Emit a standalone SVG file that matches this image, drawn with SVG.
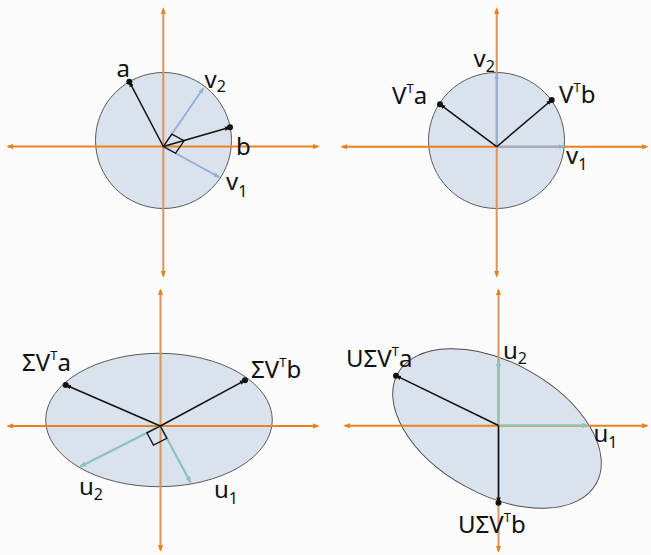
<svg xmlns="http://www.w3.org/2000/svg" width="651" height="555" viewBox="0 0 651 555">
<defs>
<marker id="axh" viewBox="0 0 8 8" refX="6" refY="4" markerWidth="7" markerHeight="7" markerUnits="userSpaceOnUse" orient="auto-start-reverse"><path d="M0,1 L8,4 L0,7 z" fill="#e8811f"/></marker>
<marker id="axv" viewBox="0 0 8 8" refX="6" refY="4" markerWidth="7" markerHeight="7" markerUnits="userSpaceOnUse" orient="auto-start-reverse"><path d="M0,1 L8,4 L0,7 z" fill="#e8811f"/></marker>
<marker id="ab" viewBox="0 0 8 8" refX="7" refY="4" markerWidth="6" markerHeight="6" markerUnits="userSpaceOnUse" orient="auto"><path d="M0,1 L8,4 L0,7 z" fill="#111"/></marker>
<marker id="abl" viewBox="0 0 8 8" refX="7" refY="4" markerWidth="6" markerHeight="6" markerUnits="userSpaceOnUse" orient="auto"><path d="M0,1 L8,4 L0,7 z" fill="#8eaedb"/></marker>
<marker id="at" viewBox="0 0 8 8" refX="7" refY="4" markerWidth="7" markerHeight="7" markerUnits="userSpaceOnUse" orient="auto"><path d="M0,1 L8,4 L0,7 z" fill="#8cc3bb"/></marker>
</defs>
<style>
.bg{fill:#fbfbfb}
.shape{fill:#dae2ee;stroke:#4a4a4a;stroke-width:0.9}
.axh{stroke:#e8811f;stroke-width:2;fill:none}
.axv{stroke:#d8955f;stroke-width:2;fill:none}
.vec{stroke:#111;stroke-width:1.5;fill:none;marker-end:url(#ab)}
.blue{stroke:#8eaedb;stroke-width:1.8;fill:none;marker-end:url(#abl)}
.teal{stroke:#8cc3bb;stroke-width:2.2;fill:none;marker-end:url(#at)}
.sq{stroke:#111;stroke-width:1.3;fill:none}
.dot{fill:#111}
text{font-family:"Noto Sans","Open Sans","DejaVu Sans",sans-serif;font-size:24px;fill:#111}
.sub{font-size:16px}
.sup{font-size:13px}
</style>
<rect class="bg" x="0" y="0" width="651" height="555"/>

<g id="panel-tl">
<circle class="shape" cx="163.5" cy="140.5" r="68"/>
<g id="axes-tl">
<line class="axh" x1="8" y1="146.5" x2="318" y2="146.5" marker-start="url(#axh)" marker-end="url(#axh)"/>
<line class="axv" x1="163.3" y1="9" x2="163.3" y2="276" marker-start="url(#axv)" marker-end="url(#axv)"/>
</g>
<g id="vectors-tl">
<line class="blue" x1="163.3" y1="146.5" x2="203.3" y2="88.3"/>
<line class="blue" x1="163.3" y1="146.5" x2="219.3" y2="177.3"/>
<polygon class="sq" points="163.3,146.5 171.8,134.1 184.1,140.8 175.6,153.2"/>
<line class="vec" x1="163.3" y1="146.5" x2="129.3" y2="81.7"/>
<line class="vec" x1="163.3" y1="146.5" x2="230" y2="127.3"/>
<circle class="dot" cx="129.3" cy="81.7" r="3"/>
<circle class="dot" cx="230" cy="127.3" r="3"/>
</g>
<text x="116.5" y="77">a</text>
<text x="236" y="155">b</text>
<text x="204.5" y="88">v<tspan class="sub" dy="4">2</tspan></text>
<text x="226" y="189.5">v<tspan class="sub" dy="7">1</tspan></text>
</g>

<g id="panel-tr">
<circle class="shape" cx="496.5" cy="140.5" r="68"/>
<g id="axes-tr">
<line class="axh" x1="342" y1="146.7" x2="647" y2="146.7" marker-start="url(#axh)" marker-end="url(#axh)"/>
<line class="axv" x1="496.7" y1="9" x2="496.7" y2="276" marker-start="url(#axv)" marker-end="url(#axv)"/>
</g>
<g id="vectors-tr">
<line class="blue" x1="496.7" y1="146.7" x2="496.7" y2="74"/>
<line class="blue" x1="496.7" y1="146.7" x2="564" y2="146.7"/>
<line class="vec" x1="496.7" y1="146.7" x2="440" y2="104.3"/>
<line class="vec" x1="496.7" y1="146.7" x2="551.7" y2="100"/>
<circle class="dot" cx="440" cy="104.3" r="3"/>
<circle class="dot" cx="551.7" cy="100" r="3"/>
</g>
<text x="473.5" y="67">v<tspan class="sub" dy="5">2</tspan></text>
<text x="392" y="103.5">V<tspan class="sup" dy="-11">T</tspan><tspan dy="11">a</tspan></text>
<text x="559" y="102.5">V<tspan class="sup" dy="-11">T</tspan><tspan dy="11">b</tspan></text>
<text x="566" y="163.5">v<tspan class="sub" dy="6.5">1</tspan></text>
</g>

<g id="panel-bl">
<ellipse class="shape" cx="159" cy="420" rx="113.3" ry="66.7"/>
<g id="axes-bl">
<line class="axh" x1="8" y1="426" x2="318" y2="426" marker-start="url(#axh)" marker-end="url(#axh)"/>
<line class="axv" x1="160.5" y1="290" x2="160.5" y2="550" marker-start="url(#axv)" marker-end="url(#axv)"/>
</g>
<g id="vectors-bl">
<line class="teal" x1="160.3" y1="426" x2="80" y2="466.7"/>
<line class="teal" x1="160.3" y1="426" x2="190.7" y2="482.7"/>
<polygon class="sq" points="160.3,426 146.9,432.8 153.5,445.1 166.9,438.3"/>
<line class="vec" x1="160.3" y1="426" x2="65.7" y2="385"/>
<line class="vec" x1="160.3" y1="426" x2="245" y2="380.3"/>
<circle class="dot" cx="65.7" cy="385" r="3"/>
<circle class="dot" cx="245" cy="380.3" r="3"/>
</g>
<text x="22" y="371">ΣV<tspan class="sup" dy="-11">T</tspan><tspan dy="11">a</tspan></text>
<text x="251" y="378">ΣV<tspan class="sup" dy="-11">T</tspan><tspan dy="11">b</tspan></text>
<text x="79" y="495">u<tspan class="sub" dy="5">2</tspan></text>
<text x="214" y="498">u<tspan class="sub" dy="6">1</tspan></text>
</g>

<g id="panel-br">
<ellipse class="shape" cx="497" cy="428.5" rx="113.5" ry="66" transform="rotate(29 497 428.5)"/>
<g id="axes-br">
<line class="axh" x1="345" y1="425.7" x2="647" y2="425.7" marker-start="url(#axh)" marker-end="url(#axh)"/>
<line class="axv" x1="498.5" y1="290" x2="498.5" y2="551" marker-start="url(#axv)" marker-end="url(#axv)"/>
</g>
<g id="vectors-br">
<line class="teal" x1="498.5" y1="425.5" x2="498.5" y2="360"/>
<line class="teal" x1="498.5" y1="425.5" x2="588.3" y2="425.5"/>
<line class="vec" x1="498.5" y1="425.5" x2="396" y2="375.7"/>
<line class="vec" x1="498.5" y1="425.5" x2="498.5" y2="502.7"/>
<circle class="dot" cx="396" cy="375.7" r="3"/>
<circle class="dot" cx="498.5" cy="502.7" r="3"/>
</g>
<text x="346" y="367">UΣV<tspan class="sup" dy="-11">T</tspan><tspan dy="11">a</tspan></text>
<text x="503" y="358.5">u<tspan class="sub" dy="5">2</tspan></text>
<text x="593.5" y="441.7">u<tspan class="sub" dy="6.5">1</tspan></text>
<text x="458" y="533">UΣV<tspan class="sup" dy="-11">T</tspan><tspan dy="11">b</tspan></text>
</g>
</svg>
